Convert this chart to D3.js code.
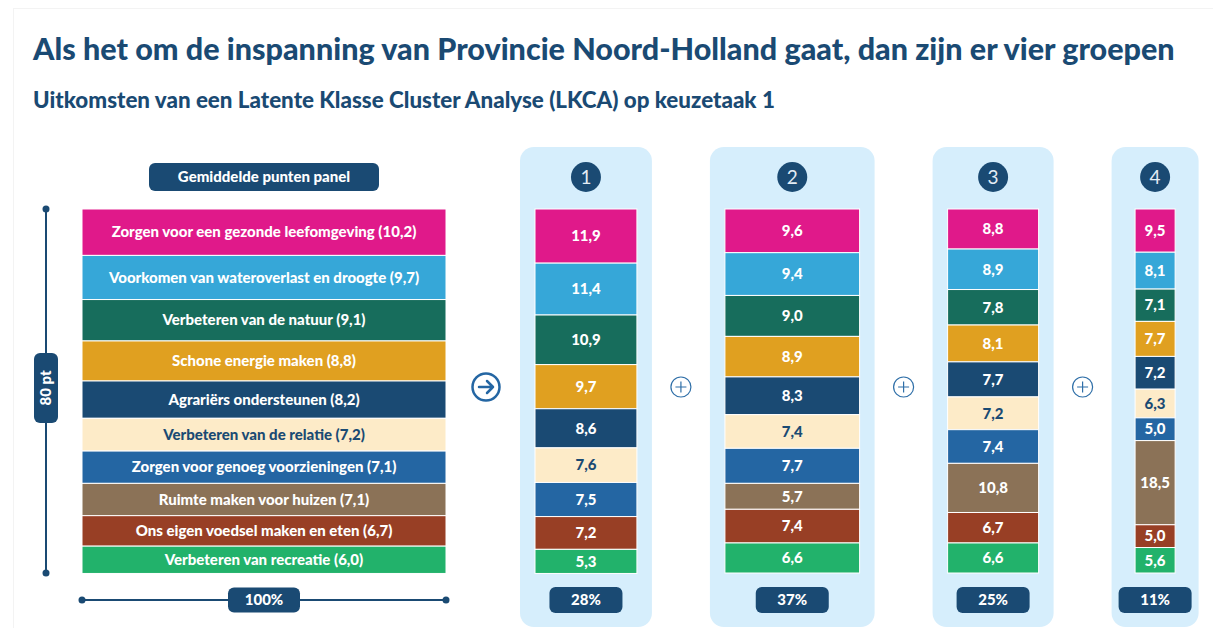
<!DOCTYPE html>
<html>
<head>
<meta charset="utf-8">
<script src="https://cdn.jsdelivr.net/npm/d3@7"></script>
<style>
  body { margin: 0; background: #ffffff; }
  svg { display: block; font-family: Lato, "Open Sans", sans-serif; }
</style>
</head>
<body>
<script>
// Categories (top to bottom in each stack)
var categories = [
  "Zorgen voor een gezonde leefomgeving",
  "Voorkomen van wateroverlast en droogte",
  "Verbeteren van de natuur",
  "Schone energie maken",
  "Agrariërs ondersteunen",
  "Verbeteren van de relatie",
  "Zorgen voor genoeg voorzieningen",
  "Ruimte maken voor huizen",
  "Ons eigen voedsel maken en eten",
  "Verbeteren van recreatie"
];

var colors = ["#e0198a", "#36a7d8", "#176d5c", "#e0a020", "#1a4a73",
              "#fdebc8", "#2466a3", "#8b7257", "#983f25", "#22b26b"];

// Average points of the whole panel
var panelPoints = [10.2, 9.7, 9.1, 8.8, 8.2, 7.2, 7.1, 7.1, 6.7, 6.0];

// Points per group (latent class)
var group1 = [11.9, 11.4, 10.9, 9.7, 8.6, 7.6, 7.5, 0, 7.2, 5.3];
var group2 = [9.6, 9.4, 9.0, 8.9, 8.3, 7.4, 7.7, 5.7, 7.4, 6.6];
var group3 = [8.8, 8.9, 7.8, 8.1, 7.7, 7.2, 7.4, 10.8, 6.7, 6.6];
var group4 = [9.5, 8.1, 7.1, 7.7, 7.2, 6.3, 5.0, 18.5, 5.0, 5.6];

var groupNames = ["1", "2", "3", "4"];
var groupShares = [28, 37, 25, 11];
var groupPoints = [group1, group2, group3, group4];

var totalPoints = 80;

var navy = "#1a4a73";
var comma = function(v) { return d3.format(".1f")(v).replace(".", ","); };

var width = 1213, height = 628;

var svg = d3.select("body").append("svg")
    .attr("width", width)
    .attr("height", height);

// faint card border
svg.append("rect")
    .attr("x", 13.5).attr("y", 8.5)
    .attr("width", width).attr("height", height)
    .style("fill", "none")
    .style("stroke", "#f3f3f3");

/*
  SCALES
*/
var y = d3.scaleLinear().domain([0, totalPoints]).range([209, 573]);
var w = d3.scaleLinear().domain([0, 100]).range([0, 364]);

// fit a text element to a given width by changing its font size
function fitWidth(sel, target) {
  var fs = parseFloat(sel.style("font-size"));
  var len = sel.node().getComputedTextLength();
  sel.style("font-size", (fs * target / len) + "px");
}

/*
  TITLES
*/
var title = svg.append("text")
    .attr("x", 33).attr("y", 60)
    .style("font-size", "28px")
    .style("font-weight", 900)
    .style("fill", navy)
    .text("Als het om de inspanning van Provincie Noord-Holland gaat, dan zijn er vier groepen");
fitWidth(title, 1142);

var subtitle = svg.append("text")
    .attr("x", 33).attr("y", 108)
    .style("font-size", "20px")
    .style("font-weight", 900)
    .style("fill", navy)
    .text("Uitkomsten van een Latente Klasse Cluster Analyse (LKCA) op keuzetaak 1");
fitWidth(subtitle, 742);

// pill with text, centered on cx, cy
function pill(cx, cy, pw, ph, label, rotate) {
  var g = svg.append("g").attr("transform", "translate(" + cx + "," + cy + ")");
  g.append("rect")
      .attr("x", -pw / 2).attr("y", -ph / 2)
      .attr("width", pw).attr("height", ph)
      .attr("rx", 6).attr("ry", 6)
      .style("fill", navy);
  g.append("text")
      .attr("transform", rotate ? "rotate(-90)" : null)
      .attr("dy", "0.35em")
      .style("text-anchor", "middle")
      .style("font-size", "15px")
      .style("font-weight", 900)
      .style("fill", "#ffffff")
      .text(label);
  return g;
}

// draw a stack of segments
function drawStack(x0, sw, values, showNames) {
  var cum = d3.cumsum(values);
  var g = svg.append("g");
  values.forEach(function(v, i) {
    if (v <= 0) return;
    var top = y(cum[i] - v), bottom = y(cum[i]);
    g.append("rect")
        .attr("x", x0)
        .attr("y", top)
        .attr("width", sw)
        .attr("height", bottom - top)
        .style("fill", colors[i])
        .style("stroke", "#ffffff")
        .style("stroke-width", "1px");
    g.append("text")
        .attr("x", x0 + sw / 2)
        .attr("y", (top + bottom) / 2)
        .attr("dy", "0.35em")
        .style("text-anchor", "middle")
        .style("font-size", "15px")
        .style("font-weight", 900)
        .style("fill", i == 5 ? navy : "#ffffff")
        .text(showNames ? categories[i] + " (" + comma(v) + ")" : comma(v));
  });
}

/*
  LEFT: PANEL AVERAGE
*/
var leftX = 82;
var leftW = w(100);

pill(leftX + leftW / 2, 177, 230, 28, "Gemiddelde punten panel");
drawStack(leftX, leftW, panelPoints, true);

// vertical 80 pt axis
svg.append("line")
    .attr("x1", 46).attr("x2", 46)
    .attr("y1", y(0)).attr("y2", y(totalPoints))
    .style("stroke", navy).style("stroke-width", "2px");
[y(0), y(totalPoints)].forEach(function(p) {
  svg.append("circle").attr("cx", 46).attr("cy", p).attr("r", 3.5).style("fill", navy);
});
pill(46, 388, 24, 70, totalPoints + " pt", true);

// horizontal 100% axis
svg.append("line")
    .attr("x1", leftX).attr("x2", leftX + leftW)
    .attr("y1", 600).attr("y2", 600)
    .style("stroke", navy).style("stroke-width", "2px");
[leftX, leftX + leftW].forEach(function(p) {
  svg.append("circle").attr("cx", p).attr("cy", 600).attr("r", 3.5).style("fill", navy);
});
pill(leftX + leftW / 2, 600, 72, 25, "100%");

/*
  GROUPS
*/
var panelPad = 30, panelMin = 87, panelGap = 58;
var px = 520;
var gaps = [];

groupNames.forEach(function(name, gi) {
  var sw = w(groupShares[gi]);
  var pw = Math.max(sw + panelPad, panelMin);
  var cx = px + pw / 2;

  svg.append("rect")
      .attr("x", px).attr("y", 147)
      .attr("width", pw).attr("height", 480)
      .attr("rx", 14).attr("ry", 14)
      .style("fill", "#d6eefc");

  svg.append("circle")
      .attr("cx", cx).attr("cy", 177)
      .attr("r", 15)
      .style("fill", navy);
  svg.append("text")
      .attr("x", cx).attr("y", 177)
      .attr("dy", "0.36em")
      .style("text-anchor", "middle")
      .style("font-size", "19px")
      .style("fill", "#e3ecf5")
      .text(name);

  drawStack(cx - sw / 2, sw, groupPoints[gi], false);
  pill(cx, 600, 73, 26, groupShares[gi] + "%");

  px += pw;
  gaps.push(px + panelGap / 2);
  px += panelGap;
});

/*
  ICONS: arrow and plus signs
*/
var iconY = 387;
var arrow = svg.append("g").attr("transform", "translate(486," + iconY + ")");
arrow.append("circle").attr("r", 13.5)
    .style("fill", "none").style("stroke", "#2466a3").style("stroke-width", "2.5px");
arrow.append("path")
    .attr("d", "M-7,0 H7 M1,-6 L7,0 L1,6")
    .style("fill", "none").style("stroke", "#2466a3").style("stroke-width", "2.5px")
    .style("stroke-linecap", "round").style("stroke-linejoin", "round");

gaps.slice(0, groupNames.length - 1).forEach(function(gx) {
  var p = svg.append("g").attr("transform", "translate(" + gx + "," + iconY + ")");
  p.append("circle").attr("r", 10)
      .style("fill", "none").style("stroke", "#2f6fa8").style("stroke-width", "1.2px");
  p.append("path")
      .attr("d", "M-5.5,0 H5.5 M0,-5.5 V5.5")
      .style("fill", "none").style("stroke", "#2f6fa8").style("stroke-width", "1.2px");
});
</script>
</body>
</html>
